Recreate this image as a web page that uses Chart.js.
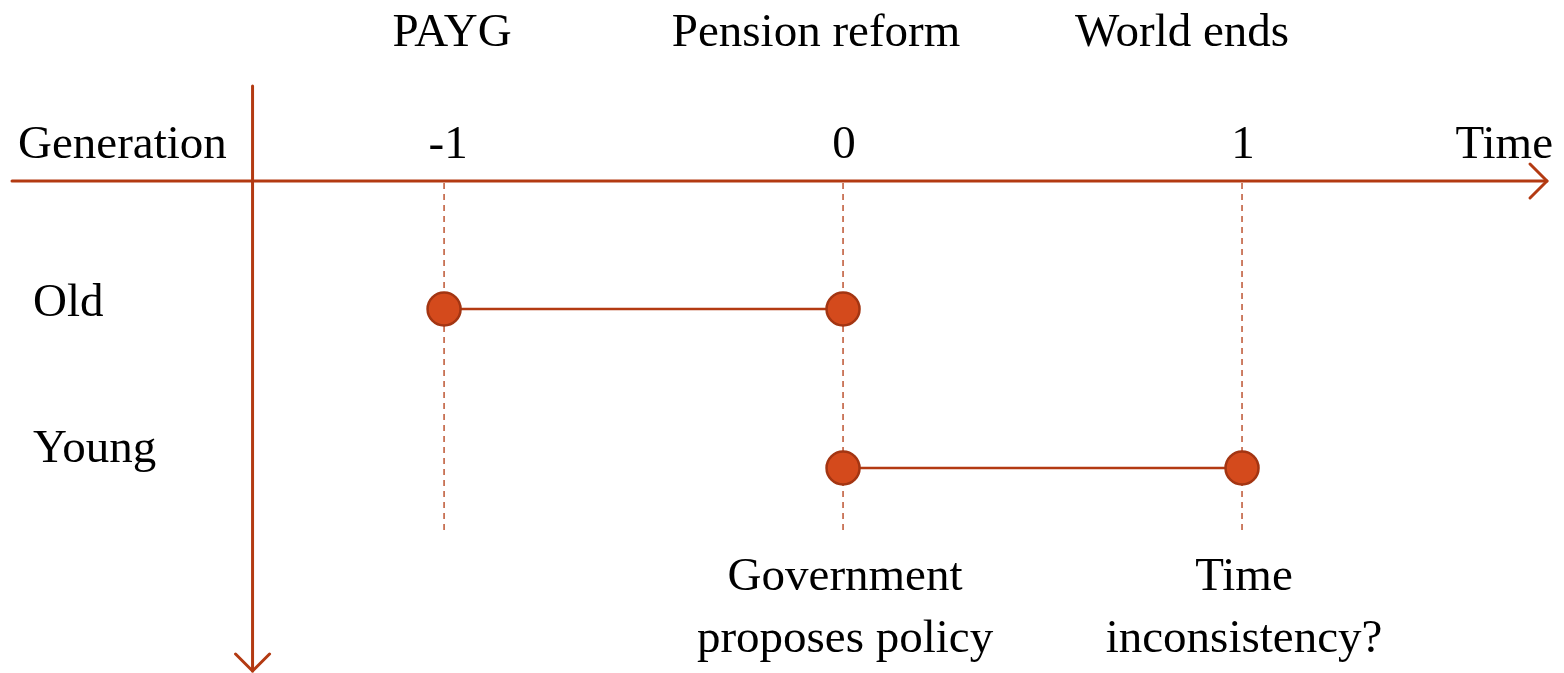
<!DOCTYPE html>
<html>
<head>
<meta charset="utf-8">
<script src="https://cdn.jsdelivr.net/npm/chart.js@4"></script>
<style>
  html, body { margin: 0; padding: 0; background: #fff; }
  .chart-container { position: relative; width: 1564px; height: 673px; }
</style>
</head>
<body>
<div class="chart-container"><canvas id="myChart"></canvas></div>
<script>
// data
const periods = [-1, 0, 1];
const period_labels = ['-1', '0', '1'];
const event_labels = ['PAYG', 'Pension reform', 'World ends'];
const note_labels = [[], ['Government', 'proposes policy'], ['Time', 'inconsistency?']];
const generations = ['Old', 'Young'];
const generation_rows = [1, 2];
const old_periods = [-1, 0];
const young_periods = [0, 1];
const axis_names = ['Generation', 'Time'];

// layout
const FONT = '47px "Liberation Serif", "DejaVu Serif", serif';
const AXIS_COLOR = '#B33A12';
const time_axis_y = 0.195;
const gen_axis_x = -1.48;
const dash_bottom = 2.39;
const event_offsets = [8, -27, -60];

var ctx = document.getElementById('myChart').getContext('2d');

function arrow(c, x, y, dx, dy) {
  c.beginPath();
  c.moveTo(x + dx - dy, y + dy + dx);
  c.lineTo(x, y);
  c.lineTo(x + dx + dy, y + dy - dx);
  c.stroke();
}

const diagram = {
  id: 'diagram',
  beforeDatasetsDraw(chart) {
    const c = chart.ctx, xs = chart.scales.x, ys = chart.scales.y;
    const ay = ys.getPixelForValue(time_axis_y);
    const ax = xs.getPixelForValue(gen_axis_x);
    c.save();
    c.strokeStyle = AXIS_COLOR;
    c.lineWidth = 3;
    c.lineCap = 'round';
    c.lineJoin = 'round';
    // time axis
    c.beginPath();
    c.moveTo(12, ay);
    c.lineTo(1547, ay);
    c.stroke();
    arrow(c, 1547, ay, -17, 0);
    // generation axis
    c.beginPath();
    c.moveTo(ax, 86);
    c.lineTo(ax, 671);
    c.stroke();
    arrow(c, ax, 671, 0, -17);
    // dashed guides
    c.lineWidth = 1.3;
    c.lineCap = 'butt';
    c.setLineDash([6, 5]);
    const yb = ys.getPixelForValue(dash_bottom);
    periods.forEach(p => {
      const px = xs.getPixelForValue(p);
      c.beginPath();
      c.moveTo(px, ay + 2);
      c.lineTo(px, yb);
      c.stroke();
    });
    c.restore();
  },
  afterDatasetsDraw(chart) {
    const c = chart.ctx, xs = chart.scales.x, ys = chart.scales.y;
    c.save();
    c.font = FONT;
    c.fillStyle = '#000';
    c.textBaseline = 'alphabetic';
    c.textAlign = 'center';
    periods.forEach((p, i) => {
      const px = xs.getPixelForValue(p);
      c.fillText(event_labels[i], px + event_offsets[i], 46);
      c.fillText(period_labels[i], px + (i === 0 ? 4 : 1), 158);
      note_labels[i].forEach((t, j) => c.fillText(t, px + 2, 590 + j * 62));
    });
    c.textAlign = 'left';
    c.fillText(axis_names[0], 18, 158);
    generations.forEach((g, i) => {
      c.fillText(g, 33, ys.getPixelForValue(generation_rows[i]) + (i === 0 ? 7 : -6));
    });
    c.textAlign = 'right';
    c.fillText(axis_names[1], 1553, 158);
    c.restore();
  }
};

function seg(xs_list, row) {
  return xs_list.map(x => ({ x: x, y: row }));
}

var chart = new Chart(ctx, {
  type: 'scatter',
  data: {
    datasets: [
      {
        label: generations[0],
        data: seg(old_periods, generation_rows[0]),
        showLine: true,
        borderColor: '#B33A12',
        borderWidth: 2.5,
        pointRadius: 16.5,
        pointBackgroundColor: '#D44A1C',
        pointBorderColor: '#A33512',
        pointBorderWidth: 2.5
      },
      {
        label: generations[1],
        data: seg(young_periods, generation_rows[1]),
        showLine: true,
        borderColor: '#B33A12',
        borderWidth: 2.5,
        pointRadius: 16.5,
        pointBackgroundColor: '#D44A1C',
        pointBorderColor: '#A33512',
        pointBorderWidth: 2.5
      }
    ]
  },
  options: {
    maintainAspectRatio: false,
    animation: false,
    layout: { padding: 0, autoPadding: false },
    plugins: { legend: { display: false }, tooltip: { enabled: false } },
    scales: {
      x: { type: 'linear', min: -2.113, max: 1.807, display: false },
      y: { type: 'linear', reverse: true, min: -0.943, max: 3.289, display: false }
    }
  },
  plugins: [diagram]
});
</script>
</body>
</html>
